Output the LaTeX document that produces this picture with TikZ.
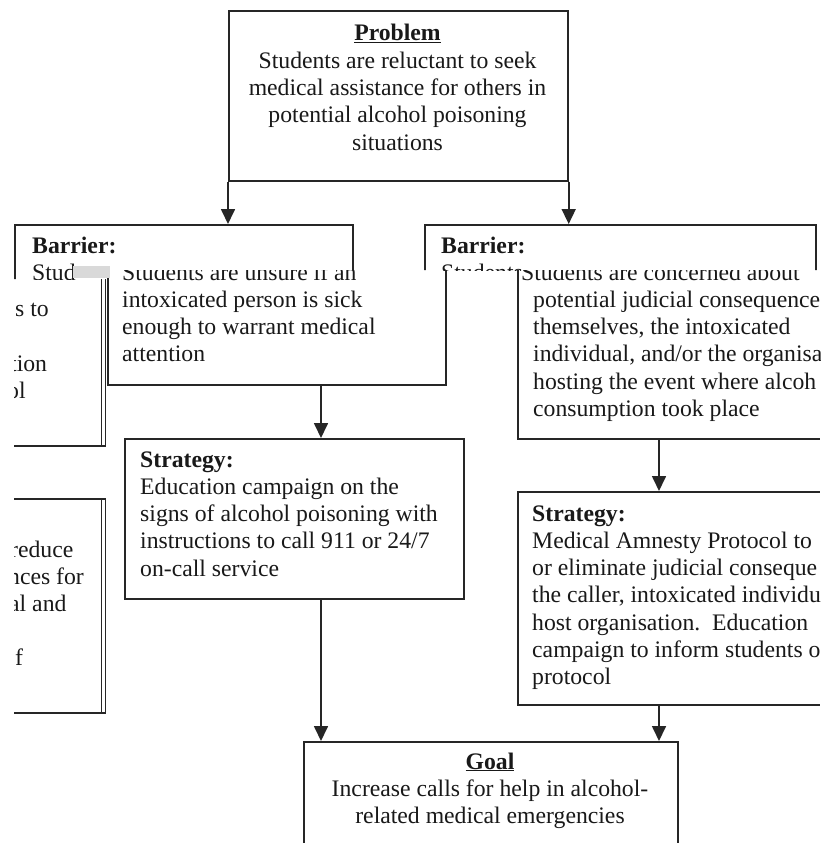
\documentclass[tikz,border=0pt]{standalone}
\usepackage{fontspec}
\setmainfont{Liberation Serif}
\usetikzlibrary{arrows.meta}
\newcommand\leftlines[1]{\vtop{\halign{\strut##\hfil\cr#1\crcr}}}
\newcommand\centerlines[1]{\vtop{\halign{\hfil\strut##\hfil\cr#1\crcr}}}
\tikzset{
  txt/.style={anchor=base west, inner sep=0pt, font=\fontsize{23.7}{27.3}\selectfont, text=black!90},
  ctxt/.style={anchor=base, inner sep=0pt, font=\fontsize{23.7}{27.3}\selectfont, text=black!90},
  boxline/.style={draw=black!85, line width=1.7pt, rectangle, inner sep=0pt, anchor=north west},
  lineonly/.style={draw=black!85, line width=1.5pt},
  arr/.style={draw=black!85, line width=1.7pt, -{Triangle[length=15pt,width=14pt]}}
}
\begin{document}
\begin{tikzpicture}[x=1pt,y=-1pt]
\useasboundingbox (0,0) rectangle (820,843);
\clip (0,0) rectangle (820,843);
\fill[white] (0,0) rectangle (820,843);
% ---------- upper band ----------
\begin{scope}
\clip (0,0) rectangle (820,270) (0,270) rectangle (107,279);
\node[boxline, minimum width=339pt, minimum height=170pt] (prob) at (228,10) {};
\node[ctxt] (probtxt) at (397.5,41) {\centerlines{\underline{\textbf{Problem}}\cr
 Students are reluctant to seek\cr
 medical assistance for others in\cr
 potential alcohol poisoning\cr
 situations}};
\node[boxline, minimum width=338pt, minimum height=160pt] (barL) at (14,224) {};
\node[boxline, minimum width=391pt, minimum height=214pt] (barR) at (424,224) {};
\draw[arr] (prob.south west) -- (prob.south west |- barL.north);
\draw[arr] (prob.south east) -- (prob.south east |- barR.north);
\node[txt] (barLtxt) at (32,253) {\leftlines{\textbf{Barrier:}\cr Stud}};
\node[txt] (barRtxt) at (441,253) {\leftlines{\textbf{Barrier:}\cr Students}};
\end{scope}
% ---------- lower band ----------
\begin{scope}
\clip (107,270) rectangle (820,843) (14,279) rectangle (107,843);
\node[boxline, minimum width=338pt, minimum height=160pt] (barL2) at (107,224) {};
\node[boxline, minimum width=391pt, minimum height=214pt] (barR2) at (517,224) {};
\node[boxline, minimum width=339pt, minimum height=160pt] (strat1) at (124,438) {};
\node[boxline, minimum width=391pt, minimum height=213pt] (stratR) at (517,491) {};
\node[boxline, minimum width=374pt, minimum height=150pt] (goal) at (303,741) {};
\node[boxline, minimum width=404.5pt, minimum height=221pt] (boxA) at (-300,224) {};
\node[boxline, minimum width=404.5pt, minimum height=214pt] (boxB) at (-300,498) {};
\draw[lineonly] ([xshift=-4.5pt]boxA.north east) -- ([xshift=-4.5pt]boxA.south east);
\draw[lineonly] ([xshift=-4.5pt]boxB.north east) -- ([xshift=-4.5pt]boxB.south east);
\coordinate (cL) at (321,0);
\coordinate (cR) at (659,0);
\draw[arr] (barL2.south -| cL) -- (strat1.north -| cL);
\draw[arr] (strat1.south -| cL) -- (goal.north -| cL);
\draw[arr] (barR2.south -| cR) -- (stratR.north -| cR);
\draw[arr] (stratR.south -| cR) -- (goal.north -| cR);
\node[txt] (barL2txt) at (122,280) {\leftlines{Students are unsure if an\cr
 intoxicated person is sick\cr
 enough to warrant medical\cr
 attention}};
\node[txt] (barR2txt) at (533,280) {\leftlines{\kern-12pt Students are concerned about\cr
 potential judicial consequence\cr
 themselves, the intoxicated\cr
 individual, and/or the organisa\cr
 hosting the event where alcoh\cr
 consumption took place}};
\node[txt] (strat1txt) at (140,467) {\leftlines{\textbf{Strategy:}\cr
 Education campaign on the\cr
 signs of alcohol poisoning with\cr
 instructions to call 911 or 24/7\cr
 on-call service}};
\node[txt] (stratRtxt) at (532,521) {\leftlines{\textbf{Strategy:}\cr
 Medical Amnesty Protocol to\cr
 or eliminate judicial conseque\cr
 the caller, intoxicated individu\cr
 host organisation.\ \ Education\cr
 campaign to inform students o\cr
 protocol}};
\node[ctxt] (goaltxt) at (490,769) {\centerlines{\underline{\textbf{Goal}}\cr
 Increase calls for help in alcohol-\cr
 related medical emergencies}};
\node[txt] (a1) at (15,316) {s to};
\node[txt] (a2) at (10,371) {tion};
\node[txt] (a3) at (7,398) {ol};
\node[txt] (b1) at (10,557) {reduce};
\node[txt] (b2) at (8,584) {nces for};
\node[txt] (b3) at (9,611) {al and};
\node[txt] (b4) at (15,665) {f};
\end{scope}
\fill[gray!30] (73,266) rectangle (110,278);
\end{tikzpicture}
\end{document}
